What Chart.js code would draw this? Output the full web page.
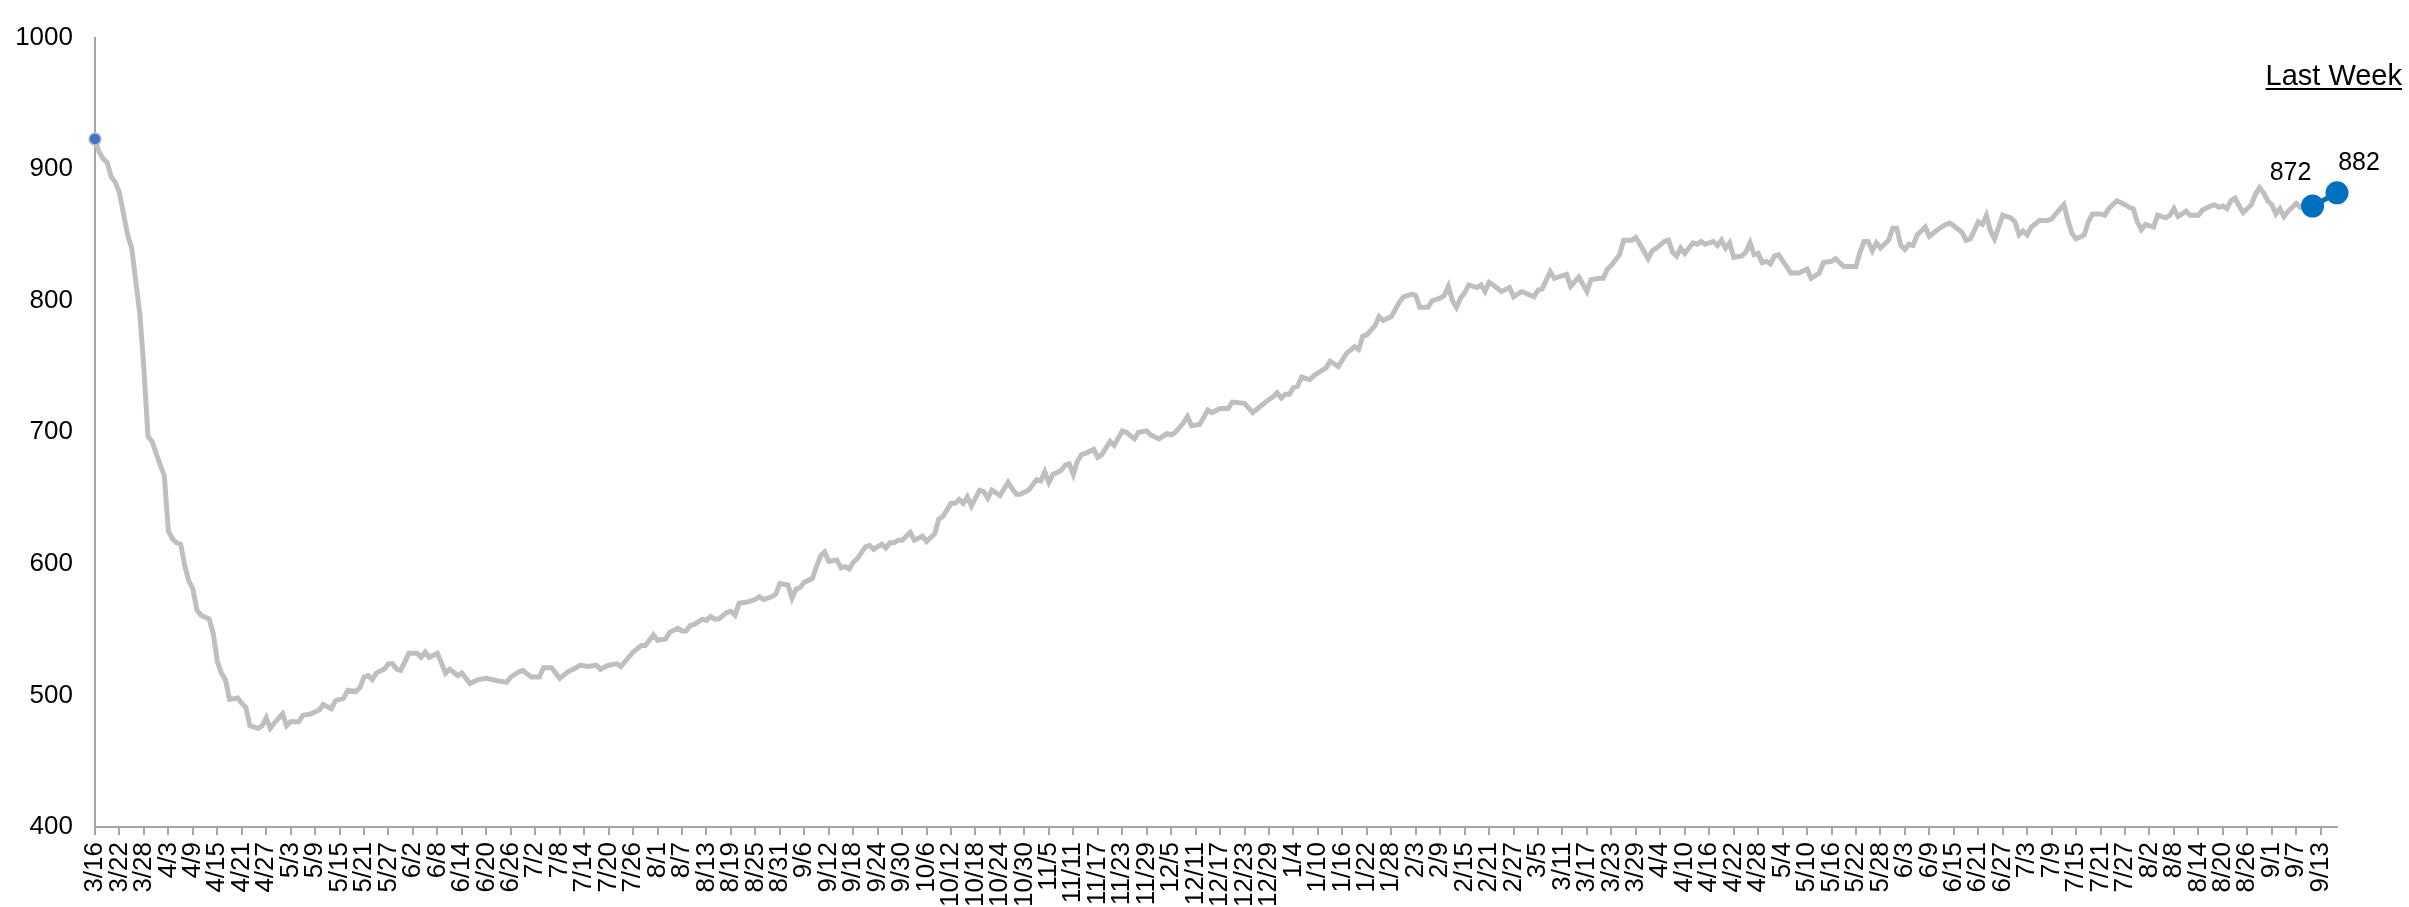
<!DOCTYPE html>
<html>
<head>
<meta charset="utf-8">
<script src="https://cdn.jsdelivr.net/npm/chart.js@4.4.0/dist/chart.umd.min.js"></script>
<style>
  html, body { margin: 0; padding: 0; background: #fff; }
  #wrap { width: 2409px; height: 907px; }
</style>
</head>
<body>
<div id="wrap"><canvas id="chart"></canvas></div>
<script>
// days since 3/16 and the index value
const dayOffsets = [
  0, 1, 2, 3, 4, 5, 6, 7, 8, 9, 10, 11, 12, 13, 14, 15, 16, 17, 18, 19, 20, 21, 22, 23, 24, 25, 26, 28, 29, 30,
  31, 32, 33, 35, 36, 37, 38, 40, 41, 42, 43, 44, 46, 47, 48, 50, 51, 53, 55, 56, 58, 59, 61, 62, 64, 65, 66, 67, 68, 69,
  71, 72, 73, 74, 75, 77, 79, 80, 81, 82, 84, 86, 87, 89, 90, 92, 94, 96, 99, 101, 102, 104, 105, 107, 109, 110, 112, 114, 116, 118,
  119, 121, 123, 124, 126, 128, 129, 132, 134, 135, 137, 138, 140, 141, 143, 144, 145, 146, 147, 149, 150, 151, 152, 153, 155, 156, 157, 158, 160, 162,
  163, 164, 166, 167, 168, 170, 171, 172, 173, 174, 176, 177, 178, 179, 180, 182, 183, 184, 185, 186, 187, 189, 190, 191, 193, 194, 195, 196, 197, 198,
  200, 201, 203, 204, 206, 207, 208, 210, 211, 212, 213, 214, 215, 217, 218, 219, 220, 222, 224, 225, 226, 227, 229, 230, 231, 232, 233, 234, 235, 237,
  238, 239, 240, 241, 242, 243, 245, 246, 247, 249, 250, 252, 253, 255, 256, 258, 259, 261, 263, 264, 265, 267, 268, 269, 271, 273, 274, 276, 278, 279,
  282, 284, 286, 288, 289, 290, 291, 292, 293, 294, 295, 296, 298, 299, 301, 302, 303, 305, 307, 309, 310, 311, 312, 314, 315, 316, 318, 320, 321, 323,
  324, 325, 327, 328, 330, 331, 332, 333, 334, 335, 336, 337, 339, 340, 341, 342, 343, 345, 347, 348, 350, 353, 354, 355, 357, 358, 361, 362, 364, 366,
  367, 369, 370, 371, 372, 374, 375, 377, 378, 379, 381, 382, 383, 385, 386, 387, 388, 389, 390, 392, 393, 394, 395, 397, 398, 399, 400, 401, 402, 404,
  405, 406, 407, 408, 409, 410, 411, 412, 413, 415, 416, 418, 420, 421, 423, 424, 426, 427, 429, 430, 432, 433, 434, 435, 436, 437, 438, 440, 441, 442,
  443, 444, 445, 446, 447, 448, 449, 450, 452, 454, 455, 456, 458, 459, 460, 461, 462, 463, 464, 465, 466, 467, 468, 470, 471, 472, 473, 474, 475, 477,
  479, 480, 481, 483, 484, 485, 486, 488, 489, 490, 492, 493, 494, 496, 498, 499, 500, 501, 502, 503, 505, 506, 508, 509, 510, 511, 512, 513, 514, 516,
  517, 519, 520, 521, 522, 523, 524, 525, 526, 527, 529, 530, 531, 532, 533, 534, 535, 536, 537, 538, 539, 540, 541, 544
];
const indexValues = [
  923, 913, 908, 905, 894, 890, 882, 866, 850, 840, 815, 790, 748, 697, 693, 684, 675, 667, 625, 619, 616, 615, 599, 587, 581, 565, 561, 558, 547, 526,
  517, 512, 497, 498, 494, 491, 477, 475, 477, 483, 475, 479, 486, 477, 480, 480, 485, 486, 489, 493, 490, 496, 498, 504, 503, 506, 514, 515, 512, 517,
  520, 524, 524, 520, 519, 532, 532, 529, 533, 529, 532, 517, 520, 515, 517, 509, 512, 513, 511, 510, 514, 518, 519, 514, 514, 521, 521, 513, 518, 521,
  523, 522, 523, 520, 523, 524, 522, 533, 538, 538, 546, 542, 543, 548, 551, 549, 549, 553, 554, 558, 557, 560, 558, 558, 563, 564, 561, 570, 571, 573,
  575, 573, 575, 577, 585, 584, 574, 581, 582, 586, 589, 598, 606, 609, 602, 603, 597, 598, 596, 601, 604, 613, 614, 611, 615, 612, 616, 616, 618, 618,
  624, 618, 621, 617, 623, 634, 636, 646, 646, 649, 646, 651, 644, 656, 655, 650, 656, 652, 662, 657, 653, 653, 656, 660, 664, 663, 670, 662, 668, 671,
  675, 676, 668, 678, 683, 684, 687, 681, 683, 693, 690, 701, 700, 695, 700, 701, 698, 695, 699, 698, 700, 707, 712, 705, 706, 717, 715, 718, 718, 723,
  722, 715, 720, 725, 727, 730, 726, 729, 729, 734, 735, 742, 740, 743, 747, 749, 754, 750, 760, 765, 763, 773, 774, 781, 788, 785, 788, 799, 803, 805,
  804, 795, 795, 800, 802, 804, 811, 800, 795, 802, 806, 812, 810, 812, 807, 814, 812, 807, 810, 803, 807, 803, 808, 809, 822, 817, 820, 811, 818, 807,
  816, 817, 817, 824, 827, 835, 846, 846, 848, 843, 832, 838, 840, 845, 846, 837, 834, 840, 836, 844, 843, 845, 843, 845, 842, 846, 840, 844, 833, 834,
  837, 844, 835, 836, 829, 830, 828, 834, 835, 826, 821, 821, 824, 817, 821, 829, 830, 832, 826, 826, 826, 837, 845, 845, 838, 844, 840, 846, 855, 855,
  842, 839, 843, 842, 850, 853, 856, 849, 854, 858, 859, 857, 852, 846, 847, 853, 860, 858, 865, 853, 847, 856, 865, 863, 860, 850, 853, 850, 856, 861,
  861, 862, 866, 873, 861, 851, 847, 850, 860, 866, 866, 865, 870, 876, 873, 871, 870, 860, 854, 858, 856, 865, 863, 865, 870, 864, 866, 868, 865, 865,
  869, 872, 873, 871, 872, 870, 876, 878, 872, 867, 873, 881, 886, 882, 876, 873, 866, 870, 864, 868, 871, 874, 871, 872
];
const lastWeekDays = [544, 550];
const lastWeekValues = [872, 882];
const tickLabels = [
  '3/16', '3/22', '3/28', '4/3', '4/9', '4/15', '4/21', '4/27', '5/3', '5/9', '5/15', '5/21', '5/27',
  '6/2', '6/8', '6/14', '6/20', '6/26', '7/2', '7/8', '7/14', '7/20', '7/26', '8/1', '8/7', '8/13',
  '8/19', '8/25', '8/31', '9/6', '9/12', '9/18', '9/24', '9/30', '10/6', '10/12', '10/18', '10/24', '10/30',
  '11/5', '11/11', '11/17', '11/23', '11/29', '12/5', '12/11', '12/17', '12/23', '12/29', '1/4', '1/10',
  '1/16', '1/22', '1/28', '2/3', '2/9', '2/15', '2/21', '2/27', '3/5', '3/11', '3/17', '3/23', '3/29',
  '4/4', '4/10', '4/16', '4/22', '4/28', '5/4', '5/10', '5/16', '5/22', '5/28', '6/3', '6/9', '6/15',
  '6/21', '6/27', '7/3', '7/9', '7/15', '7/21', '7/27', '8/2', '8/8', '8/14', '8/20', '8/26', '9/1',
  '9/7', '9/13'
];
const tickStep = 6;
const lastDay = 550;

Chart.defaults.font.family = '"Liberation Sans", Arial, sans-serif';
Chart.defaults.color = '#000';

const annotate = {
  id: 'annotate',
  afterDatasetsDraw(chart) {
    const ctx = chart.ctx;
    const pts = chart.getDatasetMeta(1).data;
    const offsets = [[-22, -33], [22, -30]];
    ctx.save();
    ctx.fillStyle = '#000';
    ctx.font = '25px "Liberation Sans", Arial, sans-serif';
    ctx.textAlign = 'center';
    ctx.textBaseline = 'middle';
    pts.forEach((p, i) => {
      ctx.fillText(String(lastWeekValues[i]), p.x + offsets[i][0], p.y + offsets[i][1]);
    });
    // "Last Week" caption, underlined
    ctx.font = '29px "Liberation Sans", Arial, sans-serif';
    ctx.textAlign = 'right';
    ctx.textBaseline = 'alphabetic';
    const tx = chart.width - 7, ty = 85;
    ctx.fillText('Last Week', tx, ty);
    const w = ctx.measureText('Last Week').width;
    ctx.fillRect(tx - w, ty + 3, w, 2);
    ctx.restore();
  }
};

new Chart(document.getElementById('chart'), {
  type: 'line',
  data: {
    datasets: [
      {
        data: dayOffsets.map((d, i) => ({ x: d, y: indexValues[i] })),
        borderColor: '#BFBFBF',
        borderWidth: 5,
        tension: 0,
        clip: false,
        order: 1,
        pointRadius: ctx => ctx.dataIndex === 0 ? 6 : 0,
        pointBackgroundColor: '#4472C4',
        pointBorderColor: '#BFBFBF',
        pointBorderWidth: 1.5
      },
      {
        data: lastWeekDays.map((d, i) => ({ x: d, y: lastWeekValues[i] })),
        borderColor: '#0070C0',
        borderWidth: 5,
        clip: false,
        order: 0,
        pointRadius: 11.5,
        pointBackgroundColor: '#0070C0',
        pointBorderWidth: 0
      }
    ]
  },
  options: {
    responsive: true,
    maintainAspectRatio: false,
    animation: false,
    layout: { padding: { top: 24, right: 72, left: 0, bottom: 0 } },
    plugins: { legend: { display: false }, tooltip: { enabled: false } },
    scales: {
      x: {
        type: 'linear',
        min: 0,
        max: lastDay,
        afterBuildTicks: s => { s.ticks = tickLabels.map((_, i) => ({ value: i * tickStep })); },
        afterFit: s => { s.height = 80; },
        ticks: {
          autoSkip: false,
          maxRotation: 90,
          minRotation: 90,
          padding: 7,
          font: { size: 26 },
          callback: (v, i) => tickLabels[i]
        },
        grid: { drawOnChartArea: false, drawTicks: true, tickLength: 8, color: '#A6A6A6', lineWidth: 2 },
        border: { color: '#A6A6A6', width: 2 }
      },
      y: {
        min: 400,
        max: 1000,
        afterFit: s => { s.width = 95; },
        ticks: { stepSize: 100, padding: 22, font: { size: 26 }, callback: v => String(v) },
        grid: { drawOnChartArea: false, drawTicks: false },
        border: { color: '#A6A6A6', width: 2 }
      }
    }
  },
  plugins: [annotate]
});
</script>
</body>
</html>
